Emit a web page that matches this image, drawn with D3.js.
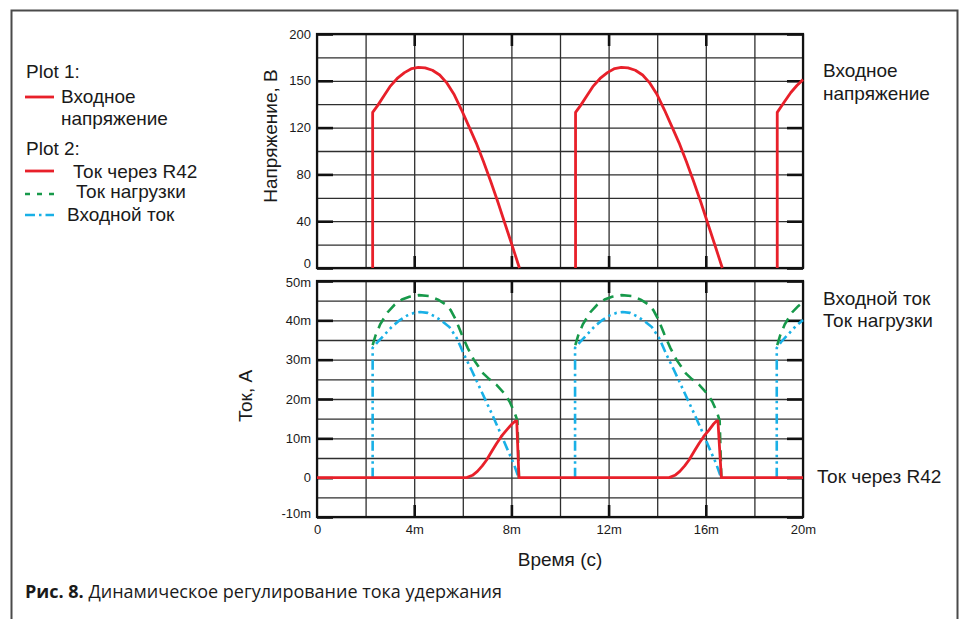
<!DOCTYPE html>
<html><head><meta charset="utf-8">
<script src="https://cdn.jsdelivr.net/npm/d3@7"></script>
<style>
html,body{margin:0;padding:0;background:#fff;}
svg{display:block;}
text{font-family:"Liberation Sans",Arial,sans-serif;fill:#1a1a1a;}
</style></head>
<body><svg id="c" width="960" height="619"></svg>
<script>
// ---------- DATA ----------
const xTickVals   = [0, 4, 8, 12, 16, 20];
const xTickLabels = ["0", "4m", "8m", "12m", "16m", "20m"];
const vTickVals   = [0, 40, 80, 120, 160, 200];
const vTickLabels = ["0", "40", "80", "120", "150", "200"];
const iTickVals   = [-10, 0, 10, 20, 30, 40, 50];
const iTickLabels = ["-10m", "0", "10m", "20m", "30m", "40m", "50m"];

// Входное напряжение (time ms, volts); null = break
const inputVoltage = [
  [2.29,0],[2.29,133],[2.5,139],[2.75,147],[3.0,155],[3.3,162],[3.6,167],[3.9,170.5],[4.17,171.5],
  [4.45,171],[4.75,169],[5.05,165],[5.35,158],[5.65,148],[5.95,135],[6.25,121],[6.55,107],[6.85,91],
  [7.15,74],[7.45,56],[7.75,37],[8.05,18],[8.33,0],[8.33,null],
  [10.64,0],[10.64,133],[10.85,139],[11.1,147],[11.35,155],[11.65,162],[11.95,167],[12.25,170.5],[12.52,171.5],
  [12.8,171],[13.1,169],[13.4,165],[13.7,158],[14.0,148],[14.3,135],[14.6,121],[14.9,107],[15.2,91],
  [15.5,74],[15.8,56],[16.1,37],[16.4,18],[16.68,0],[16.68,null],
  [18.94,0],[18.94,133],[19.2,141],[19.5,150],[19.75,156],[20,161]
];

// Ток через R42 (time ms, mA)
const r42Current = [
  [0,0],[6.16,0],[6.4,0.6],[6.6,1.6],[6.8,3],[6.98,4.5],[7.2,6.8],[7.39,8.7],[7.6,10.6],[7.8,12.1],
  [8.0,13.5],[8.14,14.3],[8.22,14.4],[8.31,0],
  [14.49,0],[14.73,0.6],[14.93,1.6],[15.13,3],[15.31,4.5],[15.53,6.8],[15.72,8.7],[15.93,10.6],[16.13,12.1],
  [16.3,13.5],[16.42,14.3],[16.5,14.4],[16.64,0],[20,0]
];

// Ток нагрузки (time ms, mA)
const loadCurrent = [
  [2.29,33.7],[2.4,36],[2.6,39],[2.9,42],[3.2,44],[3.5,45.3],[3.8,46],[4.2,46.4],[4.6,46.2],[5.0,45.2],
  [5.3,44],[5.5,42.6],[5.7,40.3],[5.95,36.5],[6.2,33],[6.45,30],[6.84,26.5],[7.1,25],[7.39,23.6],[7.7,21.5],
  [7.93,19.3],[8.13,16.5],[8.25,14.5],[8.31,0],[8.31,null],
  [10.63,33.7],[10.74,36],[10.94,39],[11.24,42],[11.54,44],[11.84,45.3],[12.14,46],[12.54,46.4],[12.94,46.2],[13.34,45.2],
  [13.64,44],[13.84,42.6],[14.04,40.3],[14.29,36.5],[14.54,33],[14.79,30],[15.18,26.5],[15.44,25],[15.73,23.6],[16.04,21.5],
  [16.27,19.3],[16.47,16.5],[16.57,14.5],[16.64,0],[16.64,null],
  [18.94,33.7],[19.05,36],[19.25,39],[19.55,42],[19.8,43.6],[20,44.6]
];

// Входной ток (time ms, mA)
const inputCurrent = [
  [2.29,0],[2.29,33],[2.5,34.5],[2.8,36.5],[3.1,38.5],[3.4,40],[3.7,41.2],[4.0,41.9],[4.25,42.1],[4.55,41.9],
  [4.85,41],[5.15,39.8],[5.45,38.3],[5.75,35.5],[6.05,31.3],[6.35,27.5],[6.65,23.5],[6.95,19.5],[7.25,15.5],
  [7.55,11.3],[7.85,7],[8.1,3.5],[8.3,0],[8.3,null],
  [10.62,0],[10.62,33],[10.83,34.5],[11.13,36.5],[11.43,38.5],[11.73,40],[12.03,41.2],[12.33,41.9],[12.58,42.1],[12.88,41.9],
  [13.18,41],[13.48,39.8],[13.78,38.3],[14.08,35.5],[14.38,31.3],[14.68,27.5],[14.98,23.5],[15.28,19.5],[15.58,15.5],
  [15.88,11.3],[16.18,7],[16.43,3.5],[16.63,0],[16.63,null],
  [18.92,0],[18.92,33],[19.1,34.5],[19.4,36.5],[19.7,38.5],[20,40.1]
];

// ---------- LAYOUT ----------
const svg = d3.select("#c");
const L = 317, R = 803;
const top1 = 34, bot1 = 268, top2 = 281, bot2 = 517;
const RED = "#e8202a", GREEN = "#17994a", BLUE = "#19b0e6";
const FS = 19;

// outer frame
svg.append("path").attr("d", `M11.5,640 V10.5 H957.5 V640`)
  .attr("fill","none").attr("stroke","#4a4a4a").attr("stroke-width",2);

const x  = d3.scaleLinear().domain([0,20]).range([L,R]);
const yV = d3.scaleLinear().domain([0,200]).range([bot1,top1]);
const yI = d3.scaleLinear().domain([-10,50]).range([bot2,top2]);

function grid(y, yTop, yBot, hVals, majorY){
  const g = svg.append("g");
  g.append("g").attr("transform",`translate(${L},0)`)
    .call(d3.axisLeft(y).tickValues(hVals).tickSize(-(R-L)).tickFormat(""))
    .call(s=>s.select(".domain").remove())
    .selectAll("line").attr("stroke","#2e2e2e").attr("stroke-width",1.3);
  g.append("g").attr("transform",`translate(0,${yBot})`)
    .call(d3.axisBottom(x).tickValues(d3.range(0,21,2)).tickSize(-(yBot-yTop)).tickFormat(""))
    .call(s=>s.select(".domain").remove())
    .selectAll("line").attr("stroke","#2e2e2e").attr("stroke-width",1.3);
  g.append("g").attr("transform",`translate(${L},0)`)
    .call(d3.axisRight(y).tickValues(majorY).tickSize(16).tickFormat(""))
    .call(s=>s.select(".domain").remove())
    .selectAll("line").attr("stroke","#111").attr("stroke-width",2.6);
  g.append("g").attr("transform",`translate(${R},0)`)
    .call(d3.axisLeft(y).tickValues(majorY).tickSize(16).tickFormat(""))
    .call(s=>s.select(".domain").remove())
    .selectAll("line").attr("stroke","#111").attr("stroke-width",2.6);
  g.append("g").attr("transform",`translate(0,${yTop})`)
    .call(d3.axisBottom(x).tickValues([4,8,12,16]).tickSize(12).tickFormat(""))
    .call(s=>s.select(".domain").remove())
    .selectAll("line").attr("stroke","#111").attr("stroke-width",2.6);
  g.append("g").attr("transform",`translate(0,${yBot})`)
    .call(d3.axisTop(x).tickValues([4,8,12,16]).tickSize(12).tickFormat(""))
    .call(s=>s.select(".domain").remove())
    .selectAll("line").attr("stroke","#111").attr("stroke-width",2.6);
  g.append("rect").attr("x",L).attr("y",yTop).attr("width",R-L).attr("height",yBot-yTop)
    .attr("fill","none").attr("stroke","#111").attr("stroke-width",2.2);
  return g;
}

grid(yV, top1, bot1, d3.range(0,201,20), vTickVals);
grid(yI, top2, bot2, d3.range(-10,51,5), iTickVals);

// tick labels
const tl1 = svg.append("g").attr("transform",`translate(${L},0)`)
  .call(d3.axisLeft(yV).tickValues(vTickVals).tickSize(0).tickPadding(6)
        .tickFormat((d,i)=>vTickLabels[i]));
tl1.select(".domain").remove();
tl1.selectAll(".tick text").attr("dy",(d)=> d===0 ? "-0.05em" : "0.32em");
const tl2 = svg.append("g").attr("transform",`translate(${L},0)`)
  .call(d3.axisLeft(yI).tickValues(iTickVals).tickSize(0).tickPadding(6)
        .tickFormat((d,i)=>iTickLabels[i]));
tl2.select(".domain").remove();
tl2.selectAll(".tick text").attr("dy",(d)=> d===50 ? "0.45em" : (d===-10 ? "0.05em" : "0.32em"));
const tl3 = svg.append("g").attr("transform",`translate(0,${bot2})`)
  .call(d3.axisBottom(x).tickValues(xTickVals).tickSize(0).tickPadding(8)
        .tickFormat((d,i)=>xTickLabels[i]));
tl3.select(".domain").remove();
svg.selectAll(".tick text").attr("font-family","'Liberation Sans',Arial,sans-serif")
  .attr("font-size",13).attr("fill","#1a1a1a");

// series
const lineV = d3.line().defined(d=>d[1]!==null).x(d=>x(d[0])).y(d=>yV(d[1]));
const lineI = d3.line().defined(d=>d[1]!==null).x(d=>x(d[0])).y(d=>yI(d[1]));

svg.append("path").datum(inputVoltage).attr("d",lineV)
  .attr("fill","none").attr("stroke",RED).attr("stroke-width",2.8).attr("stroke-linejoin","round");
svg.append("path").datum(inputCurrent).attr("d",lineI)
  .attr("fill","none").attr("stroke",BLUE).attr("stroke-width",2.6)
  .attr("stroke-dasharray","10,4,2.5,4,2.5,4");
svg.append("path").datum(loadCurrent).attr("d",lineI)
  .attr("fill","none").attr("stroke",GREEN).attr("stroke-width",2.6)
  .attr("stroke-dasharray","11,7");
svg.append("path").datum(r42Current).attr("d",lineI)
  .attr("fill","none").attr("stroke",RED).attr("stroke-width",2.8).attr("stroke-linejoin","round");

// axis titles
svg.append("text").attr("transform","translate(277,136) rotate(-90)")
  .attr("text-anchor","middle").attr("font-size",FS).text("Напряжение, В");
svg.append("text").attr("transform","translate(252,396) rotate(-90)")
  .attr("text-anchor","middle").attr("font-size",FS).text("Ток, А");
svg.append("text").attr("x",560).attr("y",566).attr("text-anchor","middle")
  .attr("font-size",FS).text("Время (с)");

// right labels
const rl = [["Входное",823,77],["напряжение",823,100],["Входной ток",823,305],["Ток нагрузки",823,327],["Ток через R42",817,483]];
rl.forEach(d=>svg.append("text").attr("x",d[1]).attr("y",d[2]).attr("font-size",FS).text(d[0]));

// legend
const lg = svg.append("g");
lg.append("text").attr("x",26).attr("y",78).attr("font-size",FS).text("Plot 1:");
lg.append("line").attr("x1",25).attr("x2",54).attr("y1",97).attr("y2",97).attr("stroke",RED).attr("stroke-width",2.8);
lg.append("text").attr("x",61).attr("y",103).attr("font-size",FS).text("Входное");
lg.append("text").attr("x",61).attr("y",125).attr("font-size",FS).text("напряжение");
lg.append("text").attr("x",26).attr("y",155).attr("font-size",FS).text("Plot 2:");
lg.append("line").attr("x1",25).attr("x2",54).attr("y1",171).attr("y2",171).attr("stroke",RED).attr("stroke-width",2.8);
lg.append("text").attr("x",73).attr("y",178).attr("font-size",FS).text("Ток через R42");
lg.append("line").attr("x1",25).attr("x2",54).attr("y1",194).attr("y2",194).attr("stroke",GREEN).attr("stroke-width",2.6).attr("stroke-dasharray","5,7");
lg.append("text").attr("x",76).attr("y",198).attr("font-size",FS).text("Ток нагрузки");
lg.append("line").attr("x1",25).attr("x2",54).attr("y1",215).attr("y2",215).attr("stroke",BLUE).attr("stroke-width",2.6).attr("stroke-dasharray","10,4,2.5,4");
lg.append("text").attr("x",67).attr("y",221).attr("font-size",FS).text("Входной ток");

// caption
const cap = svg.append("text").attr("x",25).attr("y",598).attr("font-size",18)
  .style("font-family","'Open Sans','Noto Sans',sans-serif");
cap.append("tspan").attr("font-weight","bold").text("Рис. 8.");
cap.append("tspan").text(" Динамическое регулирование тока удержания");
</script></body></html>
